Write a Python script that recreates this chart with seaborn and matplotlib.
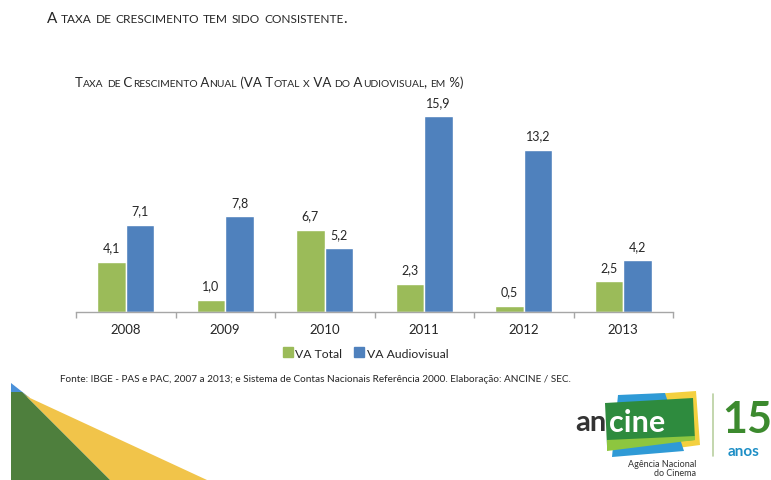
import matplotlib
matplotlib.use("Agg")
import matplotlib.pyplot as plt
from matplotlib.patches import Polygon
from matplotlib.offsetbox import TextArea, HPacker, AnnotationBbox
from matplotlib.lines import Line2D
import seaborn as sns
import pandas as pd

# ---- data -------------------------------------------------------------
anos = ["2008", "2009", "2010", "2011", "2012", "2013"]
va_total = [4.1, 1.0, 6.7, 2.3, 0.5, 2.5]
va_audiovisual = [7.1, 7.8, 5.2, 15.9, 13.2, 4.2]
series = ["VA Total", "VA Audiovisual"]

titulo_slide = "A taxa de crescimento tem sido consistente."
titulo_grafico = "Taxa de Crescimento Anual (VA Total x VA do Audiovisual, em %)"
fonte = ("Fonte: IBGE - PAS e PAC, 2007 a 2013; e Sistema de Contas Nacionais "
         "Referência 2000. Elaboração: ANCINE / SEC.")

VERDE = "#9BBB59"
AZUL = "#4F81BD"
TXT = "#262626"

W, H = 771, 481
sns.set_theme(style="white")
plt.rcParams["font.family"] = ["Lato", "DejaVu Sans"]

fig = plt.figure(figsize=(W / 100, H / 100), dpi=100)
fig.patch.set_facecolor("white")


def px(x, y):
    """pixel position (origin top-left) -> figure fraction"""
    return x / W, 1 - y / H


# ---- chart axes -------------------------------------------------------
x0, x1, ybase, ymax = 76, 673, 313, 17.0
ppu = 12.3
ax = fig.add_axes([x0 / W, (H - ybase) / H, (x1 - x0) / W, ymax * ppu / H])

df = pd.DataFrame({
    "ano": anos * 2,
    "valor": va_total + va_audiovisual,
    "serie": [series[0]] * len(anos) + [series[1]] * len(anos),
})
sns.barplot(data=df, x="ano", y="valor", hue="serie", order=anos,
            hue_order=series, palette=[VERDE, AZUL], width=0.575, gap=0,
            saturation=1, legend=False, ax=ax)

for cont in ax.containers:
    ax.bar_label(cont, labels=[f"{v:.1f}".replace(".", ",") for v in cont.datavalues],
                 padding=6, fontsize=9, color=TXT)

ax.set_xlim(-0.5, len(anos) - 0.5)
ax.set_ylim(0, ymax)
ax.set_xlabel("")
ax.set_ylabel("")
ax.set_yticks([])
for s in ["left", "right", "top"]:
    ax.spines[s].set_visible(False)
ax.spines["bottom"].set_color("#A6A6A6")
ax.spines["bottom"].set_linewidth(1.0)
ax.set_xticks([i - 0.5 for i in range(len(anos) + 1)], minor=True)
ax.tick_params(axis="x", which="minor", length=4, width=1, color="#A6A6A6",
               direction="out", bottom=True)
ax.tick_params(axis="x", which="major", length=0, pad=8, labelsize=9.5,
               labelcolor=TXT)
ax.patch.set_alpha(0)

# ---- legend -----------------------------------------------------------
handles = [Line2D([], [], marker="s", linestyle="", markersize=6.5,
                  markerfacecolor=c, markeredgecolor=c) for c in (VERDE, AZUL)]
fig.legend(handles, series, loc="center", bbox_to_anchor=px(365, 354),
           ncol=2, frameon=False, fontsize=8.8, handletextpad=0.1,
           columnspacing=0.9, handlelength=1.0, labelcolor=TXT)


# ---- small-caps titles ------------------------------------------------
def small_caps(text, x, y, big, small, color=TXT):
    runs, cur, cur_big = [], "", None
    for ch in text:
        is_big = not ch.islower()
        if cur_big is None or is_big == cur_big:
            cur += ch
        else:
            runs.append((cur, cur_big))
            cur = ch
        cur_big = is_big
    runs.append((cur, cur_big))
    parts = [TextArea(t.upper(), textprops=dict(fontsize=big if b else small,
                                                 color=color))
             for t, b in runs]
    box = HPacker(children=parts, align="baseline", pad=0, sep=0)
    ab = AnnotationBbox(box, px(x, y), xycoords="figure fraction",
                        box_alignment=(0, 0.5), frameon=False, pad=0)
    fig.add_artist(ab)


small_caps(titulo_slide, 47, 19, 11.0, 8.55)
small_caps(titulo_grafico, 75, 83, 9.5, 7.35)

fig.text(*px(60, 380), fonte, fontsize=7.2, color=TXT, va="center", ha="left")

# ---- corner decoration ------------------------------------------------
def poly(pts, color, z=0):
    fig.add_artist(Polygon([px(*p) for p in pts], closed=True,
                           facecolor=color, edgecolor="none", zorder=z,
                           transform=fig.transFigure))


poly([(11, 384), (30, 399), (11, 393)], "#4A90D9")
poly([(22, 393), (30, 399), (207, 481), (110, 481)], "#F1C44A")
poly([(11, 393), (22, 393), (110, 481), (11, 481)], "#4E7F3D")

# ---- logo -------------------------------------------------------------
poly([(640, 396), (696, 392), (700, 446), (655, 452)], "#F4D03F", 1)
poly([(618, 396), (665, 394), (684, 452), (612, 458)], "#2F9AD6", 2)
poly([(605, 404), (693, 399), (695, 441), (607, 447)], "#2E8B3E", 3)
poly([(607, 441), (695, 437), (695, 441), (607, 452)], "#8DC63F", 3)
fig.text(*px(606, 423), "an", fontsize=21, fontweight="bold", color="#333333",
         va="center", ha="right", zorder=4)
fig.text(*px(609, 423), "cine", fontsize=22, fontweight="bold", color="white",
         va="center", ha="left", zorder=4)
fig.text(*px(696, 465), "Agência Nacional", fontsize=6.5, color="#333333",
         va="center", ha="right", zorder=4)
fig.text(*px(696, 474), "do Cinema", fontsize=6.5, color="#333333",
         va="center", ha="right", zorder=4)
fig.add_artist(Line2D([713 / W, 713 / W], [1 - 395 / H, 1 - 457 / H],
                      color="#B9CFA0", lw=1.2, transform=fig.transFigure))
fig.text(*px(722, 420), "15", fontsize=31, fontweight="bold", color="#3C8A2E",
         va="center", ha="left", zorder=4)
fig.text(*px(728, 452), "anos", fontsize=11, fontweight="bold", color="#1E8FC6",
         va="center", ha="left", zorder=4)

fig.savefig("out.png", dpi=100, facecolor="white")
